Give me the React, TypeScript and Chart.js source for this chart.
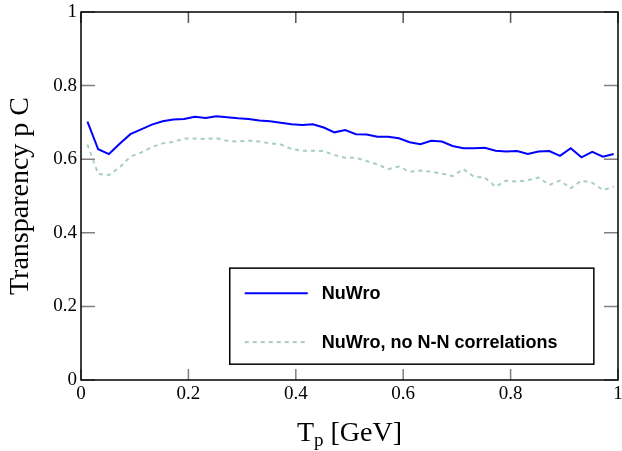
import React, { useEffect, useRef } from "react";
import { Chart, registerables } from "chart.js";

Chart.register(...registerables);

// Proton kinetic energy T_p [GeV]
const tpGeV = [
  0.012, 0.032, 0.052, 0.072, 0.092, 0.112, 0.132, 0.152, 0.172, 0.192,
  0.212, 0.232, 0.252, 0.272, 0.292, 0.312, 0.332, 0.352, 0.372, 0.392,
  0.412, 0.432, 0.452, 0.472, 0.492, 0.512, 0.532, 0.552, 0.572, 0.592,
  0.612, 0.632, 0.652, 0.672, 0.692, 0.712, 0.732, 0.752, 0.772, 0.792,
  0.812, 0.832, 0.852, 0.872, 0.892, 0.912, 0.932, 0.952, 0.972, 0.992,
];

const nuwro = [
  0.702, 0.627, 0.614, 0.642, 0.668, 0.681, 0.694, 0.703, 0.708, 0.709,
  0.715, 0.712, 0.717, 0.714, 0.711, 0.709, 0.705, 0.703, 0.699, 0.695,
  0.693, 0.695, 0.686, 0.673, 0.679, 0.668, 0.667, 0.661, 0.661, 0.657,
  0.646, 0.641, 0.650, 0.648, 0.636, 0.630, 0.630, 0.631, 0.623, 0.621,
  0.622, 0.614, 0.621, 0.622, 0.609, 0.630, 0.605, 0.620, 0.607, 0.614,
];

const nuwroNoNN = [
  0.640, 0.560, 0.557, 0.578, 0.607, 0.618, 0.633, 0.643, 0.647, 0.656,
  0.656, 0.655, 0.657, 0.650, 0.648, 0.650, 0.648, 0.643, 0.640, 0.628,
  0.623, 0.623, 0.622, 0.611, 0.604, 0.604, 0.595, 0.586, 0.573, 0.580,
  0.566, 0.569, 0.566, 0.561, 0.554, 0.573, 0.552, 0.550, 0.525, 0.542,
  0.539, 0.543, 0.550, 0.530, 0.542, 0.521, 0.542, 0.536, 0.516, 0.525,
];

const seriesLabels = ["NuWro", "NuWro, no N-N correlations"];
const seriesColors = ["#0000ff", "#a8cec4"];
const xTicks = [0, 0.2, 0.4, 0.6, 0.8, 1];
const yTicks = [0, 0.2, 0.4, 0.6, 0.8, 1];
const yTitle = "Transparency p C";
const xTitleMain = "T";
const xTitleSub = "p";
const xTitleRest = " [GeV]";

const SERIF = "'Liberation Serif', 'Times New Roman', serif";
const SANS = "'Liberation Sans', Arial, sans-serif";

const fmt = (v: any) => String(Math.round(Number(v) * 10) / 10);

const framePlugin = {
  id: "frame",
  afterDatasetsDraw(chart: any) {
    const { ctx, chartArea } = chart;
    const { left, right, top, bottom } = chartArea;
    const xs = chart.scales.x;
    const ys = chart.scales.y;
    const tl = 14;
    ctx.save();
    ctx.strokeStyle = "#808080";
    ctx.lineWidth = 1.5;
    ctx.beginPath();
    xTicks.forEach((v) => {
      const px = xs.getPixelForValue(v);
      ctx.moveTo(px, bottom);
      ctx.lineTo(px, bottom - 11);
    });
    yTicks.forEach((v) => {
      const py = ys.getPixelForValue(v);
      ctx.moveTo(left, py);
      ctx.lineTo(left + tl, py);
      ctx.moveTo(right, py);
      ctx.lineTo(right - tl, py);
    });
    ctx.stroke();
    ctx.strokeStyle = "#555";
    ctx.beginPath();
    xTicks.forEach((v) => {
      const px = xs.getPixelForValue(v);
      ctx.moveTo(px, top);
      ctx.lineTo(px, top + 11);
    });
    ctx.stroke();
    ctx.strokeStyle = "#000";
    ctx.lineWidth = 1.5;
    ctx.strokeRect(left, top, right - left, bottom - top);

    // legend box
    const lx0 = xs.getPixelForValue(0.277);
    const lx1 = xs.getPixelForValue(0.955);
    const ly0 = ys.getPixelForValue(0.304);
    const ly1 = ys.getPixelForValue(0.043);
    ctx.fillStyle = "#fff";
    ctx.fillRect(lx0, ly0, lx1 - lx0, ly1 - ly0);
    ctx.strokeStyle = "#000";
    ctx.lineWidth = 1.5;
    ctx.strokeRect(lx0, ly0, lx1 - lx0, ly1 - ly0);
    const rows = [ly0 + 25, ly0 + 74];
    chart.data.datasets.forEach((ds: any, i: number) => {
      const yy = rows[i];
      ctx.beginPath();
      ctx.strokeStyle = ds.borderColor;
      ctx.lineWidth = 2;
      ctx.setLineDash(ds.borderDash || []);
      ctx.moveTo(lx0 + 15, yy);
      ctx.lineTo(lx0 + 78, yy);
      ctx.stroke();
      ctx.setLineDash([]);
      ctx.fillStyle = "#000";
      ctx.font = `bold 18px ${SANS}`;
      ctx.textBaseline = "middle";
      ctx.textAlign = "left";
      ctx.fillText(ds.label, lx0 + 92, yy + 1);
    });

    // x title with subscript
    const cx = (left + right) / 2;
    ctx.fillStyle = "#000";
    ctx.textBaseline = "alphabetic";
    ctx.textAlign = "left";
    ctx.font = `28px ${SERIF}`;
    const wMain = ctx.measureText(xTitleMain).width;
    const wRest = ctx.measureText(xTitleRest).width;
    ctx.font = `19px ${SERIF}`;
    const wSub = ctx.measureText(xTitleSub).width;
    const total = wMain + wSub + wRest;
    const x0 = cx - total / 2;
    const base = 441;
    ctx.font = `28px ${SERIF}`;
    ctx.fillText(xTitleMain, x0, base);
    ctx.font = `19px ${SERIF}`;
    ctx.fillText(xTitleSub, x0 + wMain, base + 5);
    ctx.font = `28px ${SERIF}`;
    ctx.fillText(xTitleRest, x0 + wMain + wSub, base);
    ctx.restore();
  },
};

export default function App() {
  const ref = useRef<HTMLCanvasElement>(null);
  useEffect(() => {
    if (!ref.current) return;
    const chart = new Chart(ref.current, {
      type: "line",
      data: {
        datasets: [
          {
            label: seriesLabels[0],
            data: tpGeV.map((x, i) => ({ x, y: nuwro[i] })),
            borderColor: seriesColors[0],
            borderWidth: 2,
            pointRadius: 0,
            fill: false,
            tension: 0,
          },
          {
            label: seriesLabels[1],
            data: tpGeV.map((x, i) => ({ x, y: nuwroNoNN[i] })),
            borderColor: seriesColors[1],
            borderWidth: 2,
            borderDash: [4, 4],
            pointRadius: 0,
            fill: false,
            tension: 0,
          },
        ],
      },
      options: {
        animation: false,
        responsive: false,
        devicePixelRatio: 1,
        layout: { padding: { top: 12, right: 4, left: 0, bottom: 0 } },
        plugins: { legend: { display: false }, tooltip: { enabled: false } },
        scales: {
          x: {
            type: "linear",
            min: 0,
            max: 1,
            afterBuildTicks: (s: any) => {
              s.ticks = xTicks.map((v) => ({ value: v }));
            },
            afterFit: (s: any) => {
              s.height = 71;
              s.paddingLeft = 0;
              s.paddingRight = 0;
            },
            grid: { display: false, drawTicks: false },
            border: { display: false },
            ticks: {
              color: "#000",
              font: { family: SERIF, size: 19 },
              padding: 3,
              maxRotation: 0,
              autoSkip: false,
              callback: fmt,
            },
          },
          y: {
            type: "linear",
            min: 0,
            max: 1,
            afterBuildTicks: (s: any) => {
              s.ticks = yTicks.map((v) => ({ value: v }));
            },
            afterFit: (s: any) => {
              s.width = 81;
              s.paddingTop = 0;
              s.paddingBottom = 0;
            },
            grid: { display: false, drawTicks: false },
            border: { display: false },
            title: {
              display: true,
              text: yTitle,
              color: "#000",
              font: { family: SERIF, size: 28 },
              padding: { top: 4, bottom: 0 },
            },
            ticks: {
              color: "#000",
              font: { family: SERIF, size: 19 },
              padding: 4,
              autoSkip: false,
              callback: fmt,
            },
          },
        },
      },
      plugins: [framePlugin],
    });
    return () => chart.destroy();
  }, []);
  return (
    <div style={{ position: "fixed", left: 0, top: 0, width: 622, height: 451, background: "#fff" }}>
      <canvas ref={ref} width={622} height={451} />
    </div>
  );
}
